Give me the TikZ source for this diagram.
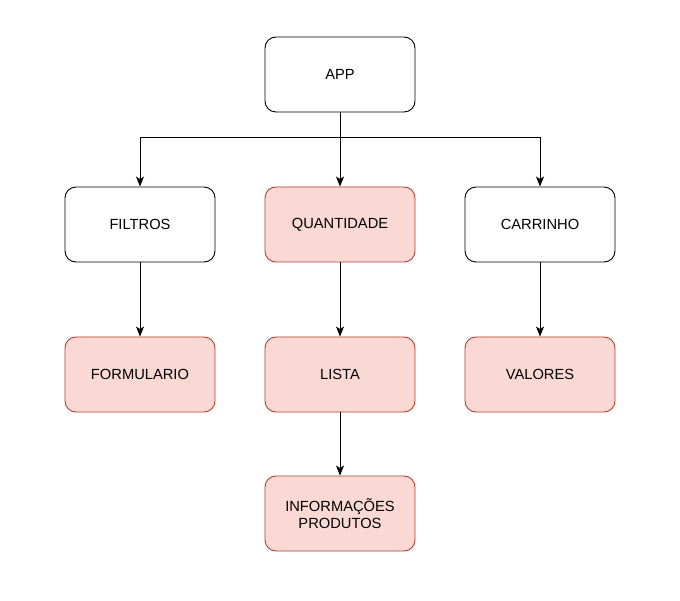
\documentclass[tikz,border=0pt]{standalone}
\usepackage{fontspec}
\setmainfont{Liberation Sans}
\usetikzlibrary{arrows.meta}
\begin{document}
\begin{tikzpicture}[x=1pt,y=-1pt,
  box/.style={draw=black, fill=white, rounded corners=11pt, minimum width=150pt, minimum height=75pt, line width=0.9pt, font=\fontsize{14.7}{17}\selectfont, align=center, inner sep=0pt},
  pinkbox/.style={box, draw=pinkdraw, fill=pinkfill},
  conn/.style={line width=1pt, -{Stealth[length=10pt,width=8pt,inset=2.5pt]}}]
\definecolor{pinkfill}{HTML}{FAD9D5}
\definecolor{pinkdraw}{HTML}{AE4132}
\useasboundingbox (0,0) rectangle (680,601);
\node[box] (app) at (340,74.5) {APP};
\node[box] (filtros) at (140,224.5) {FILTROS};
\node[pinkbox] (quant) at (340,224.5) {QUANTIDADE};
\node[box] (carr) at (540,224.5) {CARRINHO};
\node[pinkbox] (form) at (140,374.5) {FORMULARIO};
\node[pinkbox] (lista) at (340,374.5) {LISTA};
\node[pinkbox] (valores) at (540,374.5) {VALORES};
\node[pinkbox] (info) at (340,513.5) {INFORMAÇÕES\\PRODUTOS};
\coordinate (split) at (340,137.5);
\draw[conn] (app.south) -- (quant.north);
\draw[conn] (app.south) -- (split) -| (filtros.north);
\draw[conn] (app.south) -- (split) -| (carr.north);
\draw[conn] (filtros.south) -- (form.north);
\draw[conn] (quant.south) -- (lista.north);
\draw[conn] (carr.south) -- (valores.north);
\draw[conn] (lista.south) -- (info.north);
\end{tikzpicture}
\end{document}
